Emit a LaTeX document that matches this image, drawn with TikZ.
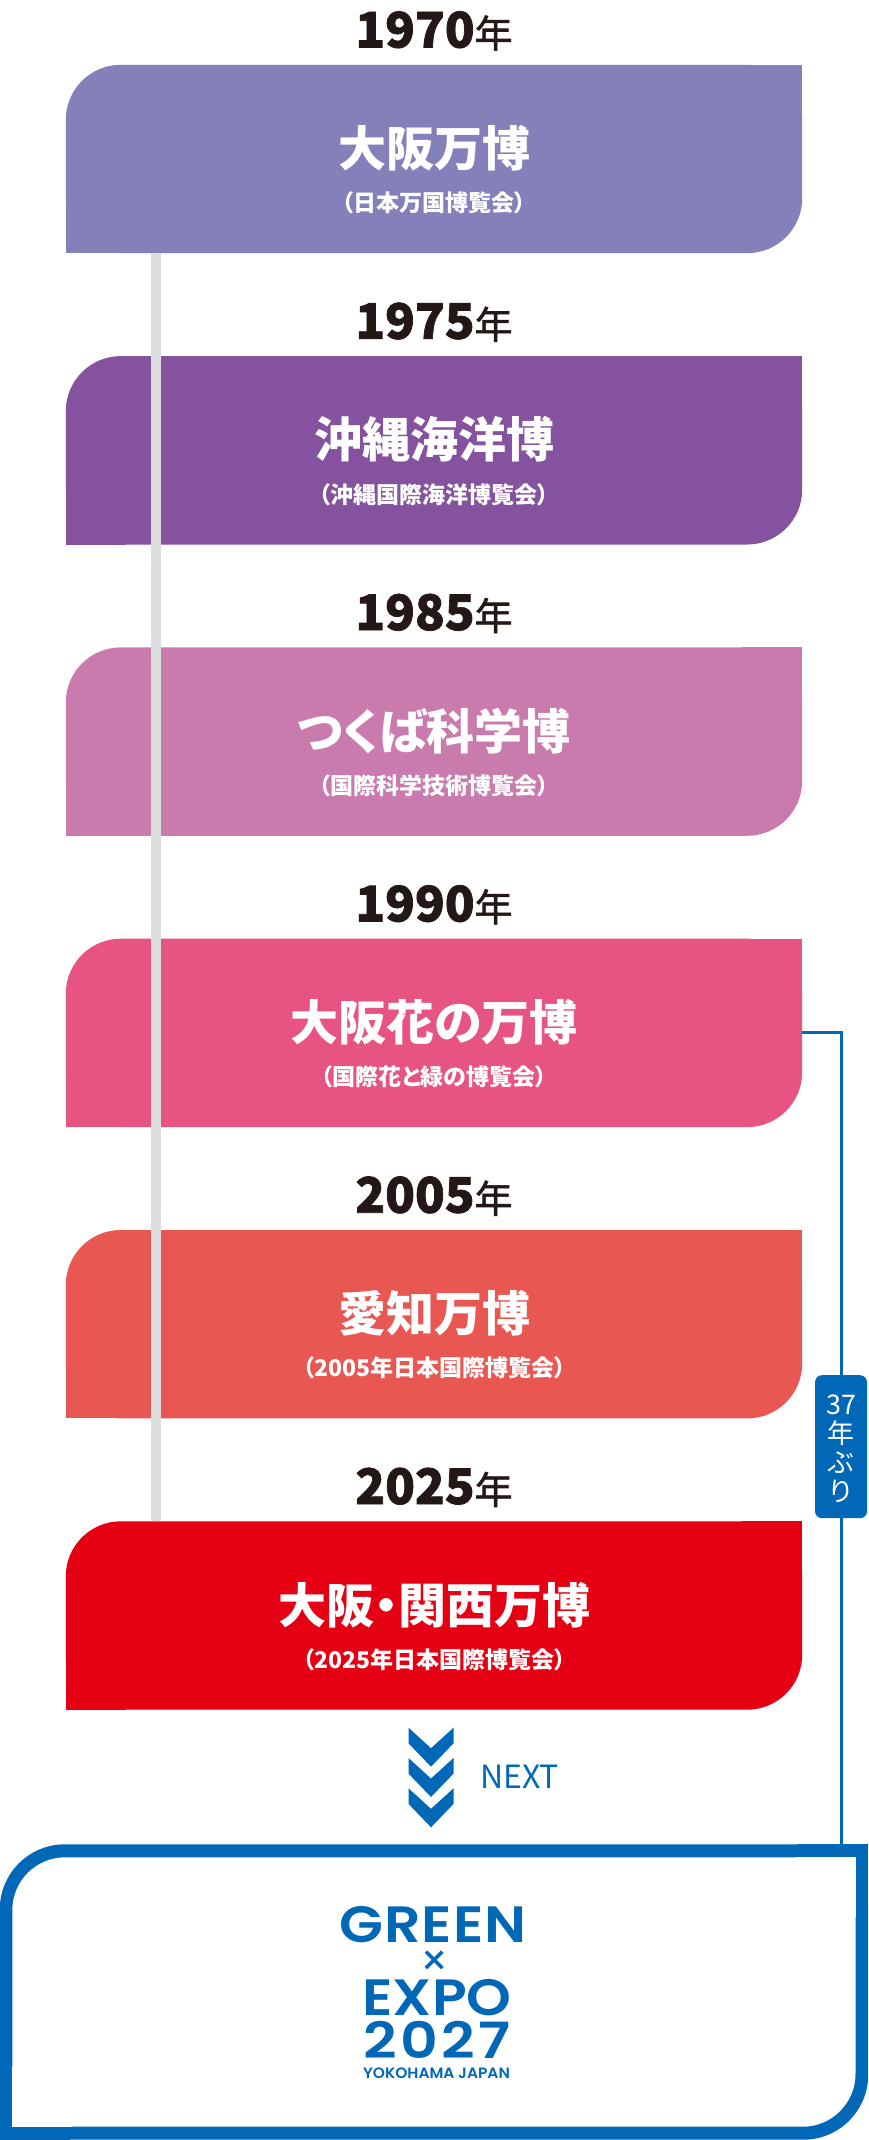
\documentclass[tikz,border=0pt]{standalone}
\usepackage{fontspec}
\newfontfamily\jp{Noto Sans CJK JP}
\newfontfamily\jpp{Noto Sans CJK JP}[RawFeature=+palt]
\newfontfamily\logofont{Poppins SemiBold}
\newfontfamily\logothin{Poppins}
\usetikzlibrary{calc}
\definecolor{cA}{HTML}{8481BA}
\definecolor{cB}{HTML}{84529E}
\definecolor{cC}{HTML}{C97BAE}
\definecolor{cD}{HTML}{E85481}
\definecolor{cE}{HTML}{E85752}
\definecolor{cF}{HTML}{E50013}
\definecolor{expoblue}{HTML}{0068B7}
\definecolor{yeartext}{HTML}{231815}
\definecolor{tlgray}{HTML}{DCDDDD}
\begin{document}
\begin{tikzpicture}[x=1pt,y=-1pt,
  boxnode/.style={inner sep=0pt, minimum width=736pt, minimum height=188pt},
  yearst/.style={inner sep=0pt, anchor=base, text=yeartext, text height=36pt, text depth=0pt},
  titlest/.style={inner sep=0pt, anchor=base, text=white, text height=42pt, text depth=4pt,
     font=\jpp\bfseries\fontsize{48}{50}\selectfont},
  subst/.style={inner sep=0pt, anchor=base, text=white, text height=19pt, text depth=3pt,
     font=\jpp\bfseries\fontsize{23}{25}\selectfont},
  logost/.style={inner sep=0pt, anchor=base, text=expoblue, text height=36pt, text depth=0pt},
  blueline/.style={draw=expoblue, line width=3pt},
  grayline/.style={draw=tlgray, line width=10pt},
  chevron/.style={fill=expoblue},
]
\useasboundingbox (0,0) rectangle (868,2140);

\foreach \i/\yr/\col/\ti/\su in {
  0/1970/cA/大阪万博/（日本万国博覧会）,
  1/1975/cB/沖縄海洋博/（沖縄国際海洋博覧会）,
  2/1985/cC/つくば科学博/（国際科学技術博覧会）,
  3/1990/cD/大阪花の万博/（国際花と緑の博覧会）,
  4/2005/cE/愛知万博/（2005年日本国際博覧会）,
  5/2025/cF/大阪・関西万博/（2025年日本国際博覧会）}{
  \pgfmathsetmacro\ytop{65+291.3*\i}
  \node[yearst] (y\i) at (434,\ytop-17.5)
    {\jp\bfseries\fontsize{49}{49}\selectfont\addfontfeature{FakeBold=1.5}\yr\mdseries\fontsize{38}{38}\selectfont 年};
  \node[boxnode] (b\i) at (434,\ytop+94) {};
  \fill[\col, rounded corners=55pt] (b\i.north west) rectangle (b\i.south east);
  \fill[\col] (b\i.north east) rectangle ++(-60,60);
  \fill[\col] (b\i.south west) rectangle ++(60,-60);
  \node[titlest] (t\i) at (434,\ytop+101.6) {\ti};
  \node[subst] (s\i) at (434,\ytop+146.7) {\su};
}

% timeline
\draw[grayline] ([xshift=90pt]b0.south west) -- ([xshift=90pt]b5.north west);

% Green expo box
\node[inner sep=0pt, minimum width=868pt, minimum height=295pt] (g) at (434,1992) {};
\fill[expoblue, rounded corners=65pt] (g.north west) rectangle (g.south east);
\fill[expoblue] (g.north east) rectangle ++(-70,70);
\fill[expoblue] (g.south west) rectangle ++(70,-70);
\fill[white, rounded corners=53pt] (12.3,1857.3) rectangle (855.5,2126.7);
\fill[white] (855.5,1857.3) rectangle ++(-60,60);
\fill[white] (12.3,2126.7) rectangle ++(60,-60);

% connector 37 years
\coordinate (labc) at (841,1446.7);
\draw[blueline] (b3.east) -- (b3.east -| labc) -- (g.north -| labc);
\node[fill=expoblue, rounded corners=7pt, minimum width=52pt, minimum height=143pt,
      inner sep=0pt] (lab) at (labc) {};
\node[inner sep=0pt, text=white, align=center,
      font=\jp\fontsize{27}{29}\selectfont] (labt) at (841,1449) {37\\年\\ぶ\\り};

% chevrons
\foreach \k in {0,1,2}{
  \pgfmathsetmacro\ct{1727.7+30.3*\k}
  \fill[chevron] (408.5,\ct) -- (431,\ct+20.5) -- (453.5,\ct) -- (453.5,\ct+15.6)
     -- (431,\ct+39) -- (408.5,\ct+15.6) -- cycle;
}
\node[inner sep=0pt, anchor=base west, text=expoblue, font=\jp\fontsize{32}{32}\selectfont] (next) at (480,1788.3) {NEXT};

% logo
\node[logost, font=\logofont\fontsize{51}{51}\selectfont] (l1) at (433,1942) {\scalebox{1.12}[1]{\addfontfeature{LetterSpace=2}GREEN}};
\node[inner sep=0pt, text=expoblue, font=\logothin\fontsize{44}{44}\selectfont] (l2) at (435,1961) {\raisebox{-0.3em}[0.1em][0pt]{×}};
\node[logost, font=\logofont\fontsize{51}{51}\selectfont] (l3) at (437,2015) {\scalebox{1.12}[1]{EXPO}};
\node[logost, font=\logofont\fontsize{50}{50}\selectfont] (l4) at (437,2058) {\scalebox{1.17}[1]{\addfontfeature{LetterSpace=6}2027}};
\node[logost, text height=10.5pt, font=\logofont\fontsize{15}{15}\selectfont] (l5) at (436.5,2078.5) {\scalebox{1.03}[1]{YOKOHAMA JAPAN}};
\end{tikzpicture}
\end{document}
